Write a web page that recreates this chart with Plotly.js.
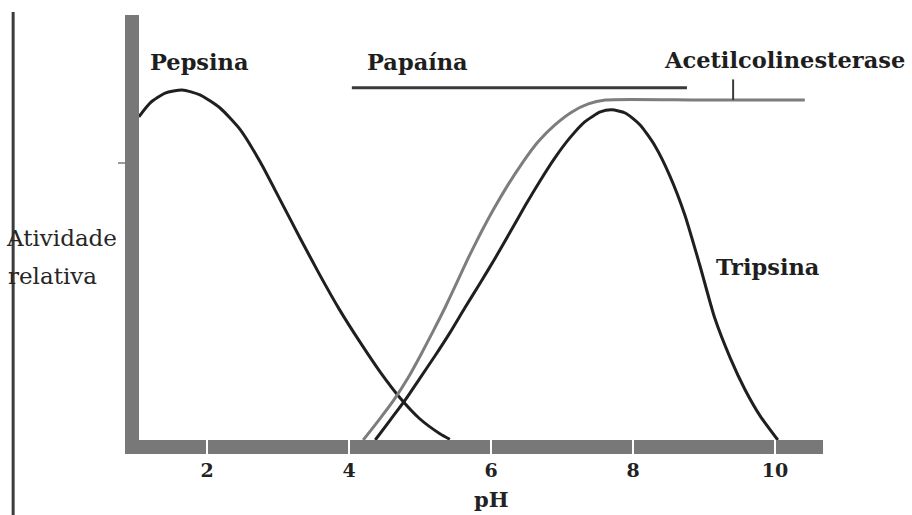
<!DOCTYPE html>
<html>
<head>
<meta charset="utf-8">
<script src="https://cdn.plot.ly/plotly-3.0.1.min.js"></script>
<style>
  html, body { margin: 0; padding: 0; background: #ffffff; }
  #chart { width: 912px; height: 515px; }
</style>
</head>
<body>
<div id="chart"></div>
<script>
// Relative enzyme activity versus pH
const pepsinaPH  = [1.04, 1.20, 1.41, 1.65, 1.90, 2.18, 2.47, 2.75, 3.03, 3.31, 3.59, 3.87, 4.16, 4.44, 4.72, 5.00, 5.28, 5.42];
const pepsinaAct = [0.923, 0.963, 0.991, 1.0, 0.986, 0.949, 0.886, 0.794, 0.686, 0.577, 0.471, 0.371, 0.278, 0.194, 0.120, 0.060, 0.018, 0.002];

const tripsinaPH  = [4.37, 4.58, 4.79, 5.00, 5.21, 5.42, 5.63, 5.85, 6.06, 6.27, 6.48, 6.69, 6.90, 7.11, 7.32, 7.54, 7.70,
                     7.89, 8.10, 8.31, 8.52, 8.73, 8.94, 9.15, 9.37, 9.58, 9.79, 10.04];
const tripsinaAct = [0.0, 0.057, 0.114, 0.177, 0.240, 0.306, 0.377, 0.449, 0.520, 0.594, 0.669, 0.740, 0.806, 0.863, 0.909, 0.937, 0.943,
                     0.934, 0.900, 0.840, 0.754, 0.643, 0.500, 0.349, 0.234, 0.143, 0.069, 0.0];

const acetilPH  = [4.20, 4.42, 4.63, 4.83, 5.01, 5.18, 5.35, 5.51, 5.68, 5.85, 6.03, 6.23, 6.44, 6.66, 6.90, 7.14, 7.37, 7.61, 8.94, 10.42];
const acetilAct = [0.0, 0.057, 0.114, 0.177, 0.243, 0.309, 0.377, 0.446, 0.520, 0.589, 0.657, 0.726, 0.791, 0.851, 0.900, 0.937, 0.960, 0.971, 0.971, 0.971];

// Papain: flat activity across its working pH range
const papainaPH  = [4.04, 8.76];
const papainaAct = [1.006, 1.006];

// Marker on the acetylcholinesterase plateau
const acetilMarkPH  = [9.41, 9.41];
const acetilMarkAct = [0.971, 1.03];

const xTickVals  = [2, 4, 6, 8, 10];
const xTickText  = ['2', '4', '6', '8', '10'];
const yTickVals  = [0.79];

const labelFont = { family: 'DejaVu Serif', size: 22.5, color: '#1e1e1e', weight: 'bold' };
const sideFont  = { family: 'DejaVu Serif', size: 23, color: '#262626' };

const curveLine = (color) => ({ color: color, width: 3, shape: 'spline', smoothing: 0.6 });

const traces = [
  { x: pepsinaPH, y: pepsinaAct, mode: 'lines', name: 'Pepsina', line: curveLine('#1f1f1f') },
  { x: acetilPH, y: acetilAct, mode: 'lines', name: 'Acetilcolinesterase', line: curveLine('#7d7d7d') },
  { x: tripsinaPH, y: tripsinaAct, mode: 'lines', name: 'Tripsina', line: curveLine('#1f1f1f') },
  { x: papainaPH, y: papainaAct, mode: 'lines', name: 'Papaína', line: { color: '#3a3a3a', width: 3 } },
  { x: acetilMarkPH, y: acetilMarkAct, mode: 'lines', name: '', line: { color: '#3a3a3a', width: 2 } }
];

// White notches cut through the thick x axis at each tick
const notchShapes = xTickVals.map(v => ({
  type: 'line', xref: 'x', yref: 'paper', layer: 'above',
  x0: v, x1: v, y0: 0.0, y1: -0.034,
  line: { color: '#ffffff', width: 2 }
}));

const layout = {
  width: 912, height: 515,
  margin: { l: 139, r: 89, t: 15, b: 75 },
  paper_bgcolor: '#ffffff', plot_bgcolor: '#ffffff',
  showlegend: false,
  xaxis: {
    range: [1.042, 10.676],
    showgrid: false, zeroline: false,
    showline: true, linecolor: '#787878', linewidth: 14,
    tickmode: 'array', tickvals: xTickVals, ticktext: xTickText,
    ticks: '', ticklabelstandoff: 0,
    tickfont: { family: 'DejaVu Serif', size: 19, color: '#222222', weight: 'bold' }
  },
  yaxis: {
    range: [0, 1.214],
    showgrid: false, zeroline: false,
    showline: true, linecolor: '#787878', linewidth: 14,
    tickmode: 'array', tickvals: yTickVals,
    ticks: 'outside', ticklen: 7, tickwidth: 2, tickcolor: '#9a9a9a',
    showticklabels: false
  },
  shapes: notchShapes.concat([
    { type: 'line', xref: 'paper', yref: 'paper', layer: 'above',
      x0: -0.184, x1: -0.184, y0: 1.007, y1: -0.18,
      line: { color: '#3c3c3c', width: 3 } }
  ]),
  annotations: [
    { text: 'Pepsina', x: 1.89, y: 1.08, xref: 'x', yref: 'y', showarrow: false, font: labelFont },
    { text: 'Papaína', x: 4.96, y: 1.08, xref: 'x', yref: 'y', showarrow: false, font: labelFont },
    { text: 'Acetilcolinesterase', x: 10.13, y: 1.086, xref: 'x', yref: 'y', showarrow: false, font: labelFont },
    { text: 'Tripsina', x: 9.90, y: 0.494, xref: 'x', yref: 'y', showarrow: false, font: labelFont },
    { text: 'pH', x: 6.0, y: -0.139, xref: 'x', yref: 'paper', yanchor: 'middle', showarrow: false,
      font: { family: 'DejaVu Serif', size: 21, color: '#222222', weight: 'bold' } },
    { text: 'Atividade', x: -0.197, y: 0.475, xref: 'paper', yref: 'paper', xanchor: 'left', showarrow: false, font: sideFont },
    { text: 'relativa', x: -0.194, y: 0.386, xref: 'paper', yref: 'paper', xanchor: 'left', showarrow: false, font: sideFont }
  ]
};

Plotly.newPlot('chart', traces, layout, { displayModeBar: false, staticPlot: true });
</script>
</body>
</html>
